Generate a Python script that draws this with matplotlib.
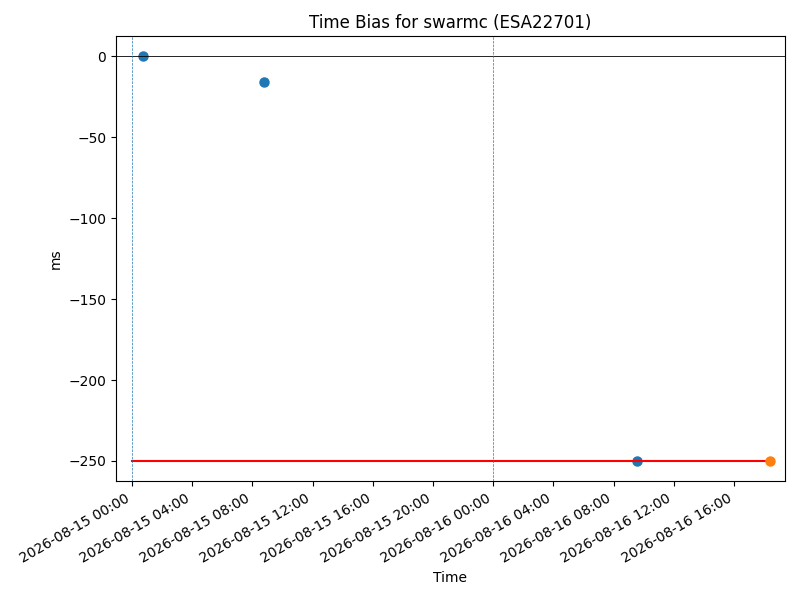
import matplotlib
matplotlib.use("Agg")
import matplotlib.pyplot as plt
import matplotlib.dates as mdates
import pandas as pd

title = "Time Bias for swarmc (ESA22701)"
blue_times = pd.to_datetime(["2026-08-15 00:44", "2026-08-15 08:46", "2026-08-16 09:34"])
blue_vals = [0, -16, -250]
orange_times = pd.to_datetime(["2026-08-16 18:24"])
orange_vals = [-250]
ref_start = pd.Timestamp("2026-08-15 00:00")
ref_value = -250
day_lines = pd.to_datetime(["2026-08-15 00:00", "2026-08-16 00:00"])

fig, ax = plt.subplots(figsize=(8, 6), dpi=100)
ax.plot(blue_times, blue_vals, "o", color="C0", ms=6.5)
ax.plot([ref_start, orange_times[0]], [ref_value, ref_value], color="red", lw=1.5)
ax.plot(orange_times, orange_vals, "o", color="C1", ms=6.5)
ax.axhline(0, color="black", lw=0.6)
for d in day_lines:
    ax.axvline(d, color="C0", ls="--", lw=0.5)
ax.set_xlim(ref_start - pd.Timedelta(minutes=64), orange_times[0] + pd.Timedelta(minutes=59))
ax.xaxis.set_major_locator(mdates.HourLocator(byhour=[0, 4, 8, 12, 16, 20]))
ax.xaxis.set_major_formatter(mdates.DateFormatter("%Y-%m-%d %H:%M"))
ax.set_title(title)
ax.set_xlabel("Time")
ax.set_ylabel("ms")
fig.autofmt_xdate()
fig.subplots_adjust(left=0.145, right=0.981, top=0.94, bottom=0.198)
fig.savefig("out.png")
